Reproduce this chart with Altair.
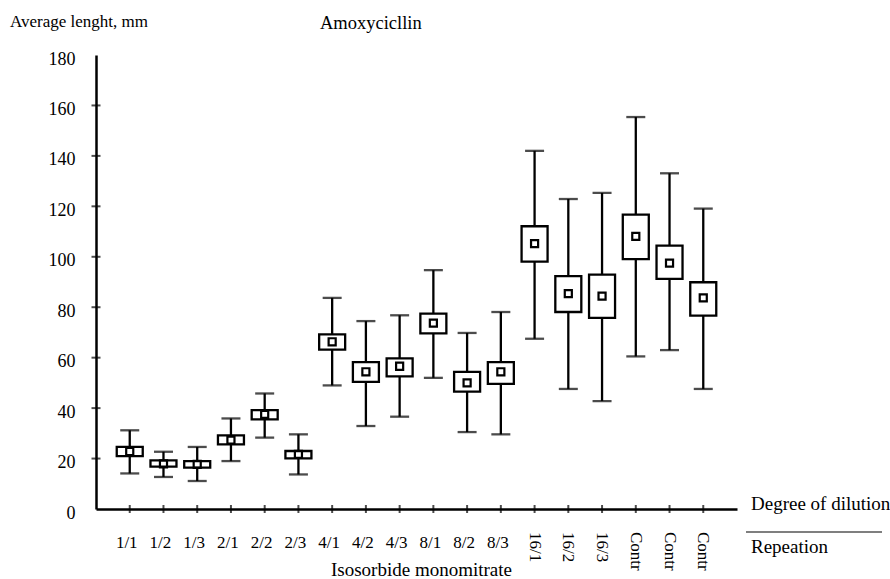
import altair as alt
import pandas as pd

categories = ["1/1", "1/2", "1/3", "2/1", "2/2", "2/3", "4/1", "4/2", "4/3",
              "8/1", "8/2", "8/3", "16/1", "16/2", "16/3", "Contr", "Contr", "Contr"]
whisker_high = [31.2, 22.7, 24.6, 35.9, 45.8, 29.6, 83.7, 74.5, 76.8,
                94.7, 69.8, 78.1, 142.0, 122.9, 125.3, 155.4, 133.1, 119.1]
whisker_low = [14.1, 12.7, 11.1, 19.0, 28.3, 13.7, 49.0, 32.9, 36.6,
               52.0, 30.5, 29.6, 67.5, 47.6, 42.8, 60.5, 63.0, 47.6]
box_high = [24.6, 19.3, 19.0, 29.2, 39.2, 23.0, 69.2, 58.2, 59.7,
            77.5, 54.4, 58.2, 112.1, 92.3, 92.9, 116.7, 104.4, 89.9]
box_low = [21.0, 16.8, 16.4, 25.6, 35.5, 20.1, 63.2, 50.4, 52.6,
           69.6, 46.5, 49.6, 98.1, 78.1, 75.8, 99.1, 91.2, 76.7]
means = [22.8, 17.9, 17.7, 27.3, 37.5, 21.7, 66.3, 54.4, 56.6,
         73.7, 50.0, 54.4, 105.2, 85.4, 84.4, 108.1, 97.5, 83.7]
y_ticks = [0, 20, 40, 60, 80, 100, 120, 140, 160, 180]
rotated_from = 12

keys = [f"{c}#{i}" for i, c in enumerate(categories)]
df = pd.DataFrame({
    "key": keys, "label": categories,
    "wlo": whisker_low, "whi": whisker_high,
    "blo": box_low, "bhi": box_high, "mean": means,
    "rot": [i >= rotated_from for i in range(len(categories))],
})

SERIF = "Liberation Serif"
W, H = 641, 454
xs = alt.X("key:N", sort=keys, scale=alt.Scale(type="point", padding=1),
           axis=alt.Axis(labels=False, ticks=False, title=None, domainColor="black",
                         domainWidth=2.5, grid=False))
ys = alt.Scale(domain=[0, 180], nice=False, zero=True)

base = alt.Chart(df)

whisk = base.mark_rule(color="black", strokeWidth=2.3).encode(
    x=xs,
    y=alt.Y("wlo:Q", scale=ys, axis=alt.Axis(values=y_ticks, title=None, ticks=False, grid=False,
                                              domainColor="black", domainWidth=2.5,
                                              labelFont=SERIF, labelFontSize=18, labelColor="black",
                                              labelPadding=21, labelOffset=4)),
    y2="whi:Q",
)
cap_lo = base.mark_tick(orient="horizontal", color="black", size=19, thickness=2.3).encode(
    x=alt.X("key:N", sort=keys), y="wlo:Q")
cap_hi = base.mark_tick(orient="horizontal", color="black", size=19, thickness=2.3).encode(
    x=alt.X("key:N", sort=keys), y="whi:Q")
box = base.mark_bar(size=26, fill="white", stroke="black", strokeWidth=2.3).encode(
    x=alt.X("key:N", sort=keys), y="blo:Q", y2="bhi:Q")
mean_pt = base.mark_point(shape="square", size=50, filled=False, color="black",
                          strokeWidth=2.2, opacity=1).encode(
    x=alt.X("key:N", sort=keys), y="mean:Q")

xtick = base.mark_tick(orient="vertical", color="black", size=8, thickness=2).encode(
    x=alt.X("key:N", sort=keys), y=alt.datum(0))
ytick_df = pd.DataFrame({"v": y_ticks[1:-1]})
ytick = alt.Chart(ytick_df).mark_tick(orient="horizontal", color="black", size=9, thickness=2).encode(
    y=alt.Y("v:Q"), x=alt.value(0))

lab_h = base.transform_filter("!datum.rot").mark_text(
    font=SERIF, fontSize=17, color="black", baseline="middle", align="center", dx=-3).encode(
    x=alt.X("key:N", sort=keys), y=alt.value(H + 34), text="label:N")
lab_r = base.transform_filter("datum.rot").mark_text(
    font=SERIF, fontSize=17, color="black", baseline="middle", align="left", angle=90).encode(
    x=alt.X("key:N", sort=keys), y=alt.value(H + 23), text="label:N")

titles = pd.DataFrame({"t": ["Average lenght, mm", "Amoxycicllin", "Degree of dilution",
                             "Repeation", "Isosorbide monomitrate"]})


def txt(s, x, y, size, align="left"):
    return alt.Chart(titles).transform_filter(alt.datum.t == s).mark_text(
        font=SERIF, fontSize=size, color="black", align=align, baseline="middle").encode(
        x=alt.value(x), y=alt.value(y), text="t:N")


t1 = txt("Average lenght, mm", -86, -33, 17)
t2 = txt("Amoxycicllin", 224, -32, 18.5)
t3 = txt("Degree of dilution", 655, 449, 19)
t4 = txt("Repeation", 655, 492, 19)
t5 = txt("Isosorbide monomitrate", 235, 515, 19)
sep = alt.Chart(titles.head(1)).mark_rule(color="#555", strokeWidth=1.5).encode(
    x=alt.value(650), x2=alt.value(786), y=alt.value(477))

chart = alt.layer(whisk, cap_lo, cap_hi, box, mean_pt, xtick, ytick,
                  lab_h, lab_r, t1, t2, t3, t4, t5, sep).properties(
    width=W, height=H,
    autosize=alt.AutoSizeParams(type="none"),
    padding={"left": 96, "top": 55, "right": 153, "bottom": 70},
    background="white",
).configure_view(stroke=None)

chart.save("out.html", embed_options={"renderer": "svg", "actions": False})
